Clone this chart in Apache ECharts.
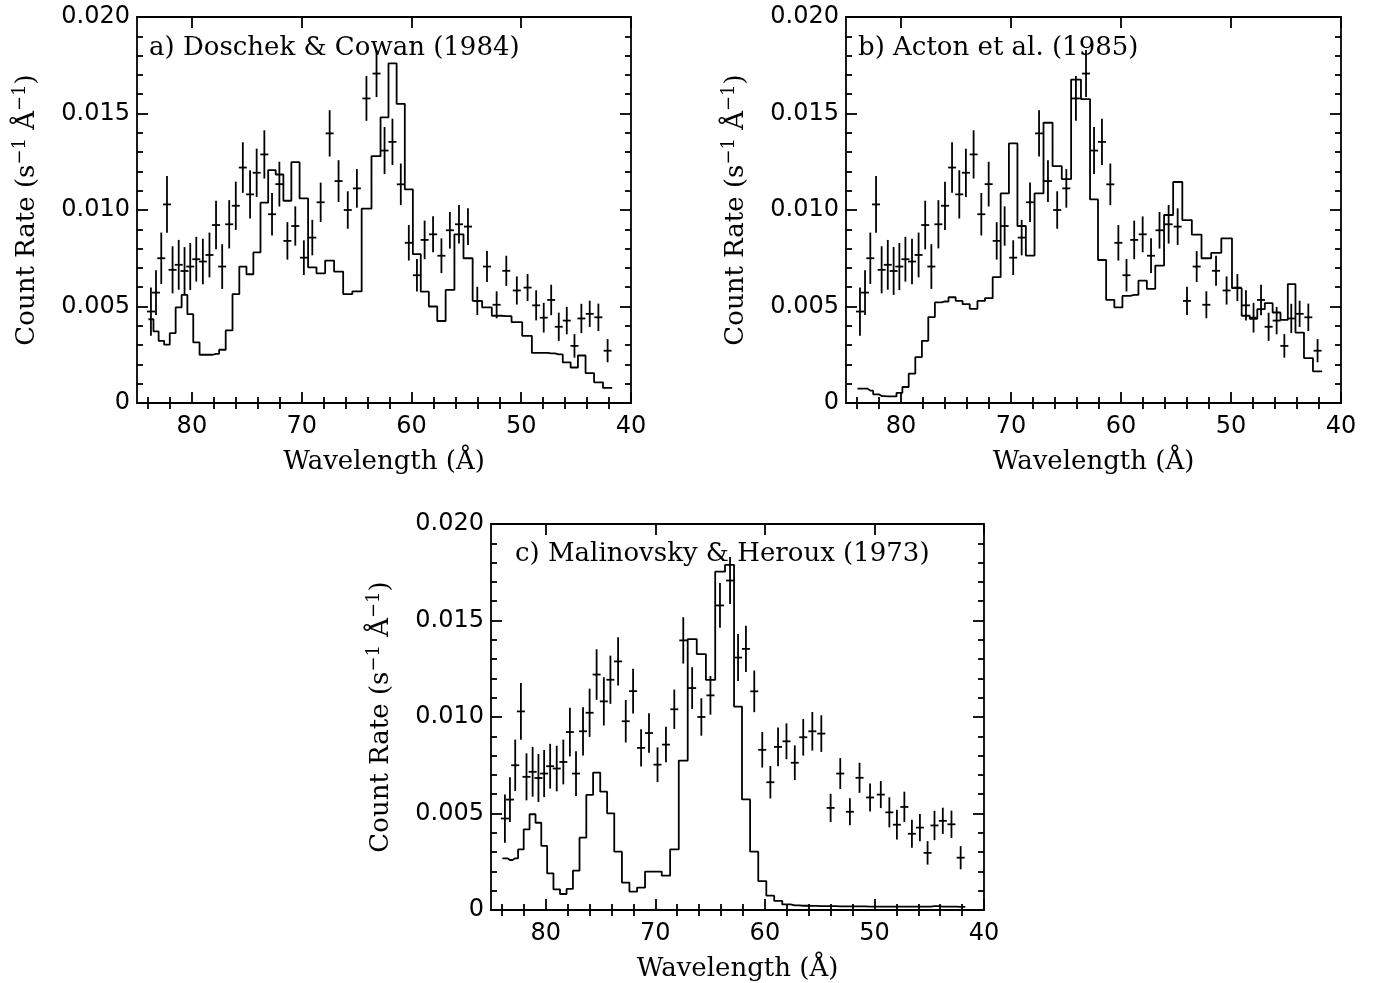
<!DOCTYPE html>
<html>
<head>
<meta charset="utf-8">
<script src="https://cdn.jsdelivr.net/npm/echarts@6/dist/echarts.min.js"></script>
<style>
  html, body { margin: 0; padding: 0; background: #ffffff; }
  #chart { width: 1374px; height: 983px; }
</style>
</head>
<body>
<div id="chart"></div>
<script>
// Channel centres of the observed spectrum (Angstrom)
const wavelength = [83.73, 83.27, 82.79, 82.27, 81.76, 81.20, 80.67, 80.15, 79.60, 79.00,
  78.40, 77.80, 77.24, 76.60, 76.00, 75.36, 74.70, 74.10, 73.40, 72.70,
  72.03, 71.30, 70.58, 69.80, 69.03, 68.27, 67.45, 66.64, 65.80, 64.97,
  64.10, 63.18, 62.45, 61.73, 60.97, 60.24, 59.50, 58.80, 58.03, 57.27,
  56.50, 55.67, 54.85, 54.00, 53.12, 52.24, 51.36, 50.40, 49.42, 48.64,
  47.95, 47.27, 46.58, 45.85, 45.15, 44.52, 43.76, 42.97, 42.13];

// Observed count rate and 1-sigma error, in units of 1e-3 s^-1 A^-1
const observed = [4.74, 5.72, 7.50, 10.29, 6.90, 7.16, 6.84, 7.07, 7.45, 7.33,
  7.67, 9.22, 7.07, 9.26, 10.22, 12.20, 10.81, 11.93, 12.88, 9.78,
  11.34, 8.40, 9.17, 7.53, 8.57, 10.40, 13.97, 11.50, 10.00, 11.12,
  15.78, 17.07, 13.08, 13.53, 11.33, 8.30, 6.62, 8.45, 8.74, 7.63,
  8.95, 9.26, 9.14, 5.29, 7.07, 5.09, 6.85, 5.83, 5.98, 5.06,
  4.42, 5.34, 3.95, 4.27, 2.96, 4.38, 4.62, 4.44, 2.71];
const observedErr = [1.25, 1.16, 1.33, 1.47, 1.22, 1.29, 1.24, 1.22, 1.16, 1.18,
  1.16, 1.26, 1.16, 1.25, 1.25, 1.31, 1.25, 1.25, 1.25, 1.10,
  1.16, 0.97, 1.02, 0.90, 0.92, 1.02, 1.20, 1.08, 0.97, 1.00,
  1.16, 1.22, 1.22, 1.20, 1.08, 0.92, 0.84, 1.00, 0.93, 0.90,
  0.95, 1.00, 0.95, 0.73, 0.80, 0.70, 0.78, 0.73, 0.70, 0.78,
  0.77, 0.79, 0.73, 0.71, 0.61, 0.76, 0.68, 0.71, 0.60];

// Predicted spectra folded through the same channels (1e-3 s^-1 A^-1)
const modelDoschek = [4.34, 3.71, 3.22, 3.02, 3.62, 4.95, 5.60, 4.60, 3.14, 2.50,
  2.50, 2.55, 2.76, 3.76, 5.64, 7.07, 6.67, 7.80, 10.38, 12.07,
  11.84, 10.48, 12.48, 10.60, 7.03, 6.72, 7.38, 6.81, 5.64, 5.78,
  10.07, 12.79, 14.80, 17.60, 15.50, 11.07, 7.71, 5.77, 5.00, 4.25,
  5.86, 8.74, 7.50, 5.29, 4.95, 4.52, 4.50, 4.19, 3.48, 2.60,
  2.60, 2.57, 2.52, 2.10, 1.84, 2.46, 1.55, 1.07, 0.78];
const modelActon = [0.74, 0.74, 0.64, 0.45, 0.36, 0.34, 0.34, 0.52, 0.83, 1.52,
  2.38, 3.22, 4.45, 5.21, 5.26, 5.48, 5.29, 5.12, 4.88, 5.29,
  5.43, 6.52, 10.86, 13.45, 9.17, 7.64, 10.86, 14.52, 12.27, 11.60,
  16.76, 15.75, 10.55, 7.41, 5.34, 4.95, 5.55, 5.60, 6.34, 5.91,
  7.12, 9.74, 11.45, 9.48, 8.72, 7.50, 7.78, 8.53, 5.95, 4.52,
  4.36, 4.86, 5.17, 4.69, 4.31, 6.16, 3.65, 2.33, 1.64];
const modelMalinovsky = [2.68, 2.59, 2.68, 3.14, 4.18, 4.96, 4.52, 3.32, 1.90, 1.07,
  0.83, 1.09, 2.04, 3.75, 5.96, 7.12, 6.13, 5.01, 3.02, 1.42,
  0.95, 1.16, 1.99, 1.99, 1.78, 3.14, 7.74, 14.04, 13.26, 11.92,
  17.53, 17.88, 10.54, 5.73, 3.02, 1.50, 0.74, 0.47, 0.29, 0.24,
  0.22, 0.21, 0.20, 0.20, 0.19, 0.19, 0.19, 0.18, 0.18, 0.18,
  0.17, 0.17, 0.17, 0.17, 0.17, 0.20, 0.18, 0.17, 0.16];

const panelTitles = ['a) Doschek & Cowan (1984)', 'b) Acton et al. (1985)', 'c) Malinovsky & Heroux (1973)'];
const panelModels = [modelDoschek, modelActon, modelMalinovsky];

// Axis ticks
const xRange = [40, 85];
const xMajorTicks = [40, 50, 60, 70, 80];
const xMinorTicks = [42, 44, 46, 48, 52, 54, 56, 58, 62, 64, 66, 68, 72, 74, 76, 78, 82, 84];
const yMajorTicks = [0, 0.005, 0.010, 0.015, 0.020];
const yTickLabels = ['0', '0.005', '0.010', '0.015', '0.020'];
const xAxisTitle = 'Wavelength (Å)';
const yAxisTitle = '{n|Count Rate (s}{sup|−1}{n| Å}{sup|−1}{n|)}';

const SCALE = 1e-3;
const INK = '#000000';
const LABEL_FONT = 'DejaVu Sans';
const TEXT_FONT = 'DejaVu Serif';

// Plot rectangles (px) for the three panels
const grids = [
  { left: 137, top: 17, width: 494, height: 386 },
  { left: 846, top: 17, width: 495, height: 386 },
  { left: 491, top: 524, width: 493, height: 386 }
];
const titlePos = [
  { left: 149, top: 35 },
  { left: 858, top: 35 },
  { left: 515, top: 541 }
];

// Histogram outline: channel centres plus the outer half-bins at both ends
function stepPoints(values) {
  const n = wavelength.length;
  const firstEdge = wavelength[0] + (wavelength[0] - wavelength[1]) / 2;
  const lastEdge = wavelength[n - 1] - (wavelength[n - 2] - wavelength[n - 1]) / 2;
  const pts = [[firstEdge, values[0] * SCALE]];
  for (let i = 0; i < n; i++) pts.push([wavelength[i], values[i] * SCALE]);
  pts.push([lastEdge, values[n - 1] * SCALE]);
  return pts;
}

const errorData = wavelength.map((w, i) => [w, observed[i] * SCALE, observedErr[i] * SCALE]);

function renderCross(params, api) {
  const x = api.value(0), y = api.value(1), e = api.value(2);
  const c = api.coord([x, y]);
  const hi = api.coord([x, y + e]);
  const lo = api.coord([x, y - e]);
  const half = 4;
  const style = { stroke: INK, lineWidth: 1.8 };
  return {
    type: 'group',
    children: [
      { type: 'line', shape: { x1: c[0], y1: hi[1], x2: c[0], y2: lo[1] }, style: style },
      { type: 'line', shape: { x1: c[0] - half, y1: c[1], x2: c[0] + half, y2: c[1] }, style: style }
    ]
  };
}

function yLabel(v) {
  const i = yMajorTicks.findIndex(t => Math.abs(t - v) < 1e-9);
  return i >= 0 ? yTickLabels[i] : '';
}

const lineStyle = { color: INK, width: 1.8 };
const xAxes = [], yAxes = [], series = [], titles = [];

grids.forEach((g, p) => {
  const base = { type: 'value', gridIndex: p, min: xRange[0], max: xRange[1], inverse: true,
    splitLine: { show: false } };
  // bottom, with labels and long ticks
  xAxes.push(Object.assign({}, base, {
    position: 'bottom',
    axisLine: { show: true, onZero: false, lineStyle: lineStyle },
    axisTick: { show: true, inside: true, length: 11, customValues: xMajorTicks, lineStyle: lineStyle },
    axisLabel: { show: true, customValues: xMajorTicks, margin: 12, color: INK,
      fontFamily: LABEL_FONT, fontSize: 24 },
    name: xAxisTitle, nameLocation: 'middle', nameGap: 46,
    nameTextStyle: { fontFamily: TEXT_FONT, fontSize: 26, color: INK }
  }));
  // bottom, short ticks
  xAxes.push(Object.assign({}, base, {
    position: 'bottom',
    axisLine: { show: false },
    axisTick: { show: true, inside: true, length: 6, customValues: xMinorTicks, lineStyle: lineStyle },
    axisLabel: { show: false }
  }));
  // top frame, long ticks
  xAxes.push(Object.assign({}, base, {
    position: 'top',
    axisLine: { show: true, onZero: false, lineStyle: lineStyle },
    axisTick: { show: true, inside: true, length: 11, customValues: xMajorTicks, lineStyle: lineStyle },
    axisLabel: { show: false }
  }));
  // top frame, short ticks
  xAxes.push(Object.assign({}, base, {
    position: 'top',
    axisLine: { show: false },
    axisTick: { show: true, inside: true, length: 6, customValues: xMinorTicks, lineStyle: lineStyle },
    axisLabel: { show: false }
  }));

  const yBase = { type: 'value', gridIndex: p, min: yMajorTicks[0], max: yMajorTicks[yMajorTicks.length - 1],
    interval: yMajorTicks[1] - yMajorTicks[0], splitLine: { show: false },
    axisLine: { show: true, onZero: false, lineStyle: lineStyle },
    axisTick: { show: true, inside: true, length: 11, lineStyle: lineStyle },
    minorTick: { show: true, splitNumber: 5, length: 6, lineStyle: lineStyle } };
  yAxes.push(Object.assign({}, yBase, {
    position: 'left',
    axisLabel: { show: true, margin: 7, color: INK, fontFamily: LABEL_FONT, fontSize: 24, formatter: yLabel },
    name: yAxisTitle, nameLocation: 'middle', nameGap: 94,
    nameTextStyle: {
      color: INK, fontFamily: TEXT_FONT, fontSize: 26,
      rich: {
        n: { fontFamily: TEXT_FONT, fontSize: 26, color: INK, lineHeight: 32 },
        sup: { fontFamily: TEXT_FONT, fontSize: 18, color: INK, verticalAlign: 'top', lineHeight: 32 }
      }
    }
  }));
  yAxes.push(Object.assign({}, yBase, {
    position: 'right',
    axisLabel: { show: false }
  }));

  series.push({
    type: 'line', xAxisIndex: 4 * p, yAxisIndex: 2 * p,
    data: stepPoints(panelModels[p]), step: 'middle',
    showSymbol: false, symbol: 'none', lineStyle: { color: INK, width: 1.8 },
    silent: true, z: 3
  });
  series.push({
    type: 'custom', xAxisIndex: 4 * p, yAxisIndex: 2 * p,
    data: errorData, encode: { x: 0, y: 1 },
    renderItem: renderCross, silent: true, z: 4
  });

  titles.push({
    text: panelTitles[p], left: titlePos[p].left, top: titlePos[p].top, padding: 0,
    textStyle: { fontFamily: TEXT_FONT, fontSize: 26, fontWeight: 'normal', color: INK }
  });
});

const chart = echarts.init(document.getElementById('chart'), null, { renderer: 'canvas' });
chart.setOption({
  backgroundColor: '#ffffff',
  animation: false,
  title: titles,
  grid: grids.map(g => Object.assign({ containLabel: false }, g)),
  xAxis: xAxes,
  yAxis: yAxes,
  series: series
});
</script>
</body>
</html>
